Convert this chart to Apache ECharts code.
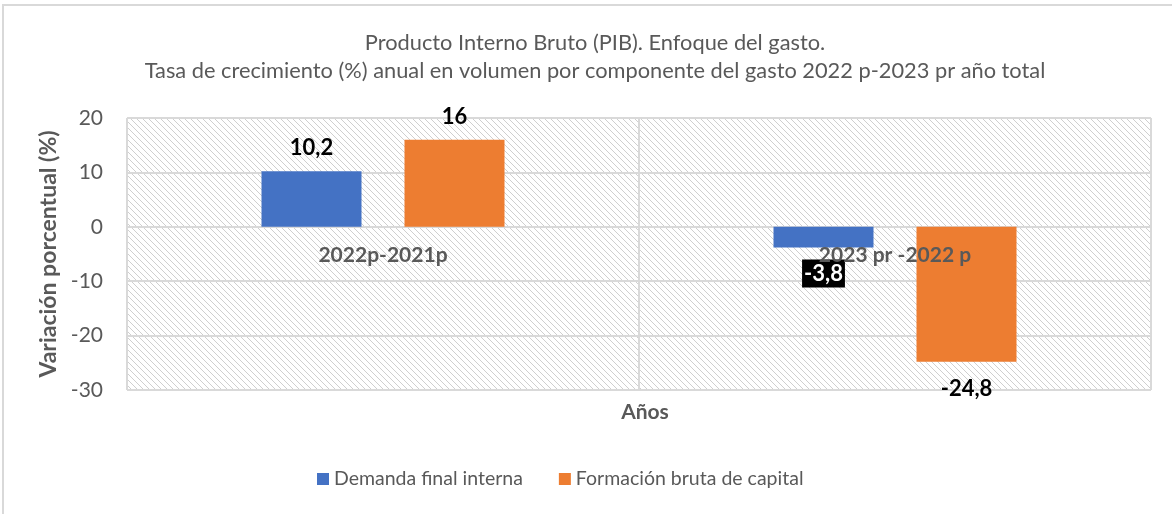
<!DOCTYPE html>
<html lang="es">
<head>
    <meta charset="UTF-8">
    <script src="https://cdn.jsdelivr.net/npm/echarts@6/dist/echarts.min.js"></script>
    <title>PIB</title>
    <style>
        html, body { margin: 0; padding: 0; background: #fff; }
    </style>
</head>
<body>
    <div id="main" style="width:1172px;height:514px;"></div>
<script type="text/javascript">
    // datos del grafico
    var categorias = ['2022p-2021p', '2023 pr -2022 p'];
    var demanda = [10.2, -3.8];
    var formacion = [16, -24.8];
    var nombres = ['Demanda final interna', 'Formación bruta de capital'];

    var fuente = 'Lato, "Liberation Sans", sans-serif';
    var gris = '#595959';

    // trama diagonal del fondo
    var tile = document.createElement('canvas');
    tile.width = 6; tile.height = 6;
    var ctx = tile.getContext('2d');
    ctx.strokeStyle = '#cfcfcf';
    ctx.lineWidth = 1;
    ctx.beginPath();
    ctx.moveTo(-1, -1); ctx.lineTo(7, 7);
    ctx.stroke();

    function coma(v) { return String(v).replace('.', ','); }

    function armar(vals, marcarNeg) {
        return vals.map(function (v) {
            var item = { value: v, label: { position: v < 0 ? 'bottom' : 'top' } };
            if (v < 0) item.label.distance = 16;
            if (v < 0 && marcarNeg) {
                item.label.backgroundColor = '#000';
                item.label.color = '#fff';
                item.label.padding = [3, 2];
                item.label.distance = 12;
            }
            return item;
        });
    }

    var etiqueta = {
        show: true,
        distance: 12,
        color: '#000',
        fontWeight: 'bold',
        fontSize: 22,
        fontFamily: fuente,
        formatter: function (p) { return coma(p.value); }
    };

    var chart = echarts.init(document.getElementById('main'));
    chart.setOption({
        animation: false,
        textStyle: { fontFamily: fuente },
        title: [{
            text: 'Producto Interno Bruto (PIB). Enfoque del gasto.\nTasa de crecimiento (%) anual en volumen por componente del gasto 2022 p-2023 pr año total',
            left: 590,
            textAlign: 'center',
            top: 24,
            textStyle: { color: gris, fontSize: 21.8, fontWeight: 'normal', lineHeight: 28, fontFamily: fuente }
        }, {
            text: 'Años',
            left: 640,
            textAlign: 'center',
            top: 397,
            textStyle: { color: gris, fontSize: 21, fontWeight: 'bold', fontFamily: fuente }
        }],
        legend: {
            bottom: 20,
            left: 312,
            itemWidth: 12,
            itemHeight: 12,
            itemGap: 36,
            icon: 'rect',
            textStyle: { color: gris, fontSize: 19.5, fontFamily: fuente },
            data: nombres
        },
        graphic: [{
            type: 'rect',
            shape: { x: 3, y: 5, width: 1300, height: 700 },
            style: { fill: 'none', stroke: '#d9d9d9', lineWidth: 2 },
            silent: true
        }],
        grid: {
            left: 127, right: 21, top: 118, bottom: 124,
            show: true,
            borderColor: '#d9d9d9',
            borderWidth: 1,
            backgroundColor: { image: tile, repeat: 'repeat' }
        },
        xAxis: {
            type: 'category',
            data: categorias,
            position: 'bottom',
            offset: -163,
            z: 5,
            axisLine: { show: false, onZero: false },
            axisTick: { show: false },
            axisLabel: { color: gris, fontSize: 21, fontWeight: 'bold', margin: 18, fontFamily: fuente },
            splitLine: { show: true, lineStyle: { color: '#d9d9d9', width: 2 } }
        },
        yAxis: {
            type: 'value',
            min: -30, max: 20, interval: 10,
            name: 'Variación porcentual (%)',
            nameLocation: 'middle',
            nameGap: 60,
            nameTextStyle: { color: gris, fontSize: 23, fontWeight: 'bold', fontFamily: fuente },
            axisLine: { show: false },
            axisTick: { show: false },
            axisLabel: { color: gris, fontSize: 21, margin: 24, fontFamily: fuente },
            splitLine: { lineStyle: { color: '#d9d9d9', width: 2 } }
        },
        series: [{
            name: nombres[0],
            type: 'bar',
            barWidth: 100,
            barGap: '43%',
            itemStyle: { color: '#4472C4' },
            label: etiqueta,
            data: armar(demanda, true)
        }, {
            name: nombres[1],
            type: 'bar',
            barWidth: 100,
            itemStyle: { color: '#ED7D31' },
            label: etiqueta,
            data: armar(formacion, false)
        }]
    });
</script>
</body>
</html>
